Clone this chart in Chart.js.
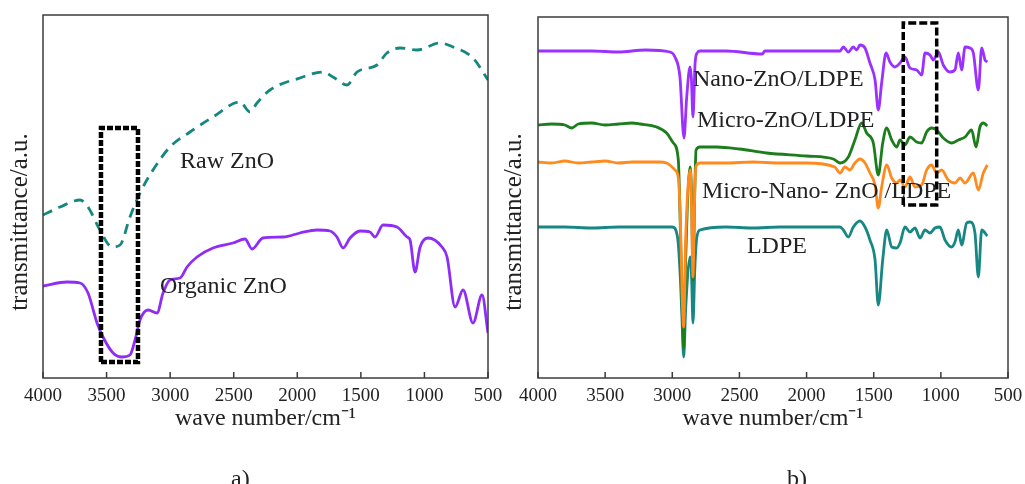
<!DOCTYPE html>
<html>
<head>
<meta charset="utf-8">
<script src="https://cdn.jsdelivr.net/npm/chart.js@4/dist/chart.umd.min.js"></script>
<style>
  html, body { margin: 0; padding: 0; background: #fff; }
  body { width: 1025px; height: 484px; position: relative; overflow: hidden; }
  canvas { position: absolute; top: 0; }
  #chartA { left: 0; }
  #chartB { left: 495px; }
  .cap { position: absolute; font: 24px "Liberation Serif", serif; line-height: 24px; color: #222; }
</style>
</head>
<body>
<canvas id="chartA" width="520" height="484"></canvas>
<canvas id="chartB" width="530" height="484"></canvas>
<div class="cap" style="left:231px;top:466px">a)</div>
<div class="cap" style="left:787px;top:466px">b)</div>
<script>
// x tick labels (wave number)
const xTicks = [4000, 3500, 3000, 2500, 2000, 1500, 1000, 500];

// panel a) raw ZnO
const rawWn = [4000, 3866, 3709, 3646, 3552, 3457, 3394, 3316, 3237, 3135, 3001, 2844, 2663, 2450, 2372, 2317, 2215, 1979, 1798, 1719, 1609, 1530, 1373, 1295, 1192, 1058, 877, 775, 618, 500];
const rawT = [163, 171, 178, 171, 148, 131, 133, 161, 185, 208, 231, 246, 261, 276, 266, 275, 288, 300, 306, 301, 293, 306, 313, 325, 330, 328, 335, 331, 320, 298];

// panel a) organic ZnO
const orgWn = [4000, 3811, 3709, 3646, 3575, 3528, 3449, 3379, 3316, 3276, 3237, 3174, 3103, 3056, 3001, 2922, 2867, 2789, 2663, 2505, 2411, 2356, 2270, 2112, 1979, 1845, 1743, 1688, 1640, 1585, 1507, 1428, 1389, 1326, 1216, 1137, 1113, 1074, 1034, 971, 862, 822, 759, 696, 618, 547, 500];
const orgT = [92, 96, 95, 85, 55, 41, 25, 21, 23, 38, 58, 68, 65, 85, 98, 100, 111, 121, 130, 135, 139, 129, 140, 141, 145, 148, 147, 141, 130, 140, 147, 146, 141, 153, 151, 141, 138, 106, 131, 140, 131, 121, 71, 88, 55, 83, 45];

// panel b) Nano-ZnO/LDPE
const nanoWn = [4000, 3800, 3600, 3400, 3200, 3017, 2980, 2943, 2913, 2893, 2868, 2858, 2846, 2830, 2815, 2794, 2600, 2330, 2310, 2000, 1751, 1726, 1689, 1652, 1627, 1602, 1565, 1528, 1490, 1466, 1441, 1408, 1379, 1342, 1304, 1267, 1230, 1180, 1143, 1118, 1081, 1056, 1019, 982, 932, 895, 870, 845, 820, 783, 758, 721, 696, 671, 654];
const nanoT = [327, 327, 327, 326, 328, 326, 321, 301, 240, 280, 311, 300, 261, 315, 325, 327, 327, 324, 327, 327, 327, 331, 326, 331, 328, 333, 330, 315, 298, 268, 295, 325, 316, 311, 315, 321, 310, 308, 303, 325, 323, 318, 326, 313, 306, 308, 325, 308, 331, 330, 325, 288, 330, 318, 316];

// panel b) Micro-ZnO/LDPE
const microWn = [4000, 3900, 3800, 3749, 3700, 3600, 3500, 3400, 3300, 3240, 3116, 3042, 2992, 2955, 2940, 2928, 2915, 2900, 2866, 2856, 2846, 2832, 2823, 2794, 2670, 2500, 2297, 2000, 1801, 1751, 1689, 1640, 1590, 1553, 1503, 1466, 1433, 1403, 1366, 1329, 1304, 1267, 1230, 1180, 1143, 1106, 1069, 1031, 982, 920, 870, 820, 771, 738, 709, 684, 654];
const microT = [253, 254, 253, 250, 254, 255, 253, 254, 255, 254, 251, 245, 235, 218, 150, 80, 30, 120, 211, 180, 98, 190, 228, 231, 231, 229, 225, 222, 219, 215, 221, 238, 255, 245, 235, 203, 235, 250, 238, 231, 238, 233, 241, 236, 235, 246, 250, 248, 240, 235, 238, 241, 248, 231, 251, 255, 252];

// panel b) Micro-Nano-ZnO/LDPE
const mnWn = [4000, 3900, 3800, 3700, 3600, 3500, 3400, 3300, 3200, 3100, 3042, 2980, 2955, 2940, 2928, 2915, 2900, 2866, 2856, 2846, 2832, 2823, 2794, 2600, 2400, 2200, 2000, 1790, 1751, 1714, 1677, 1640, 1602, 1565, 1528, 1490, 1466, 1441, 1403, 1366, 1329, 1304, 1267, 1230, 1193, 1143, 1106, 1069, 1031, 994, 945, 895, 857, 820, 758, 721, 684, 654];
const mnT = [216, 215, 217, 215, 216, 217, 215, 216, 216, 216, 215, 208, 200, 160, 90, 51, 140, 208, 170, 101, 190, 212, 215, 215, 216, 215, 215, 211, 205, 211, 208, 215, 219, 215, 205, 193, 170, 191, 213, 200, 195, 198, 191, 201, 191, 193, 208, 213, 205, 208, 198, 195, 200, 195, 205, 188, 205, 213];

// panel b) LDPE
const ldpeWn = [4000, 3800, 3600, 3400, 3200, 3000, 2960, 2940, 2928, 2915, 2900, 2866, 2856, 2846, 2832, 2818, 2794, 2600, 2400, 2200, 2000, 1751, 1726, 1689, 1652, 1602, 1565, 1528, 1490, 1466, 1433, 1403, 1366, 1329, 1304, 1267, 1230, 1193, 1155, 1118, 1081, 1044, 1007, 969, 920, 895, 870, 845, 808, 783, 746, 721, 696, 654];
const ldpeT = [151, 151, 150, 151, 151, 151, 140, 100, 60, 21, 70, 121, 100, 55, 110, 140, 148, 151, 150, 151, 151, 151, 148, 141, 151, 157, 151, 138, 118, 73, 118, 148, 131, 130, 135, 151, 146, 150, 140, 148, 145, 150, 151, 138, 131, 136, 148, 133, 155, 156, 145, 101, 148, 142];

// highlighted regions (dashed boxes)
const boxAWn = [3544, 3253];
const boxAT = [16, 250];
const boxBWn = [1280, 1031];
const boxBT = [173, 355];

const serif = '"Liberation Serif", "Times New Roman", serif';

function pts(wn, t) {
  return wn.map((w, i) => ({ x: w, y: t[i] }));
}

function boxPts(wn, t) {
  return [
    { x: wn[0], y: t[0] }, { x: wn[0], y: t[1] }, { x: wn[1], y: t[1] },
    { x: wn[1], y: t[0] }, { x: wn[0], y: t[0] }
  ];
}

function spectrum(label, wn, t, color, dash) {
  return {
    label: label,
    data: pts(wn, t),
    borderColor: color,
    borderWidth: 2.8,
    borderDash: dash || [],
    pointRadius: 0,
    cubicInterpolationMode: 'monotone',
    fill: false
  };
}

function boxSet(wn, t, width, dash) {
  return {
    label: 'box',
    data: boxPts(wn, t),
    borderColor: '#000',
    borderWidth: width,
    borderDash: dash,
    borderJoinStyle: 'miter',
    pointRadius: 0,
    tension: 0,
    order: -1
  };
}

// frame, inward ticks, y title and curve labels
const framePlugin = {
  id: 'frame',
  afterDatasetsDraw(chart, args, opts) {
    const { ctx, chartArea: a, scales: { x, y } } = chart;
    ctx.save();
    ctx.strokeStyle = '#3c3c3c';
    ctx.lineWidth = 1.5;
    ctx.strokeRect(a.left, a.top, a.right - a.left, a.bottom - a.top);
    ctx.beginPath();
    x.ticks.forEach(tk => {
      const px = x.getPixelForValue(tk.value);
      ctx.moveTo(px, a.bottom);
      ctx.lineTo(px, a.bottom - 6);
    });
    ctx.stroke();
    ctx.fillStyle = '#222';
    ctx.textBaseline = 'middle';
    // y axis title, sits a bit below the middle of the frame like the original
    ctx.save();
    ctx.font = '25px ' + serif;
    ctx.textAlign = 'center';
    ctx.translate(opts.titleX, 222);
    ctx.rotate(-Math.PI / 2);
    ctx.fillText('transmittance/a.u.', 0, 0);
    ctx.restore();
    ctx.font = '24px ' + serif;
    ctx.textAlign = 'left';
    (opts.labels || []).forEach(l => {
      ctx.fillText(l.text, x.getPixelForValue(l.wn), y.getPixelForValue(l.t));
    });
    ctx.restore();
  }
};

function makeOptions(yMax, padTop, padRight, titleX, labels) {
  return {
    responsive: false,
    animation: false,
    events: [],
    layout: { padding: { left: 0, top: padTop, right: padRight, bottom: 51 } },
    plugins: {
      legend: { display: false },
      tooltip: { enabled: false },
      frame: { labels: labels, titleX: titleX }
    },
    scales: {
      x: {
        type: 'linear',
        min: 500,
        max: 4000,
        reverse: true,
        afterFit: s => { s.height = 55; },
        afterBuildTicks: s => { s.ticks = xTicks.map(v => ({ value: v })); },
        grid: { display: false },
        border: { display: false },
        ticks: {
          padding: -1,
          color: '#222',
          font: { family: serif, size: 19 },
          maxRotation: 0,
          callback: v => String(v)
        },
        title: {
          display: true,
          text: 'wave number/cm⁻¹',
          color: '#222',
          padding: 0,
          font: { family: serif, size: 24, lineHeight: 1.2 }
        }
      },
      y: {
        min: 0,
        max: yMax,
        afterFit: s => { s.width = 43; },
        grid: { display: false },
        border: { display: false },
        ticks: { display: false }
      }
    }
  };
}

new Chart(document.getElementById('chartA'), {
  type: 'line',
  data: {
    datasets: [
      boxSet(boxAWn, boxAT, 4.5, [6, 2]),
      spectrum('Raw ZnO', rawWn, rawT, '#14877f', [10, 7]),
      spectrum('Organic ZnO', orgWn, orgT, '#8f2cf5')
    ]
  },
  options: makeOptions(363, 15, 32, 20, [
    { text: 'Raw ZnO', wn: 2922, t: 216 },
    { text: 'Organic ZnO', wn: 3080, t: 91 }
  ]),
  plugins: [framePlugin]
});

new Chart(document.getElementById('chartB'), {
  type: 'line',
  data: {
    datasets: [
      boxSet(boxBWn, boxBT, 3.5, [8, 3]),
      spectrum('Nano-ZnO/LDPE', nanoWn, nanoT, '#9b30ff'),
      spectrum('Micro-Nano- ZnO /LDPE', mnWn, mnT, '#ff8a1e'),
      spectrum('Micro-ZnO/LDPE', microWn, microT, '#1b7d1b'),
      spectrum('LDPE', ldpeWn, ldpeT, '#178784')
    ]
  },
  options: makeOptions(361, 17, 17, 19, [
    { text: 'Nano-ZnO/LDPE', wn: 2846, t: 298 },
    { text: 'Micro-ZnO/LDPE', wn: 2816, t: 257 },
    { text: 'Micro-Nano- ZnO /LDPE', wn: 2779, t: 186 },
    { text: 'LDPE', wn: 2444, t: 131 }
  ]),
  plugins: [framePlugin]
});
</script>
</body>
</html>
